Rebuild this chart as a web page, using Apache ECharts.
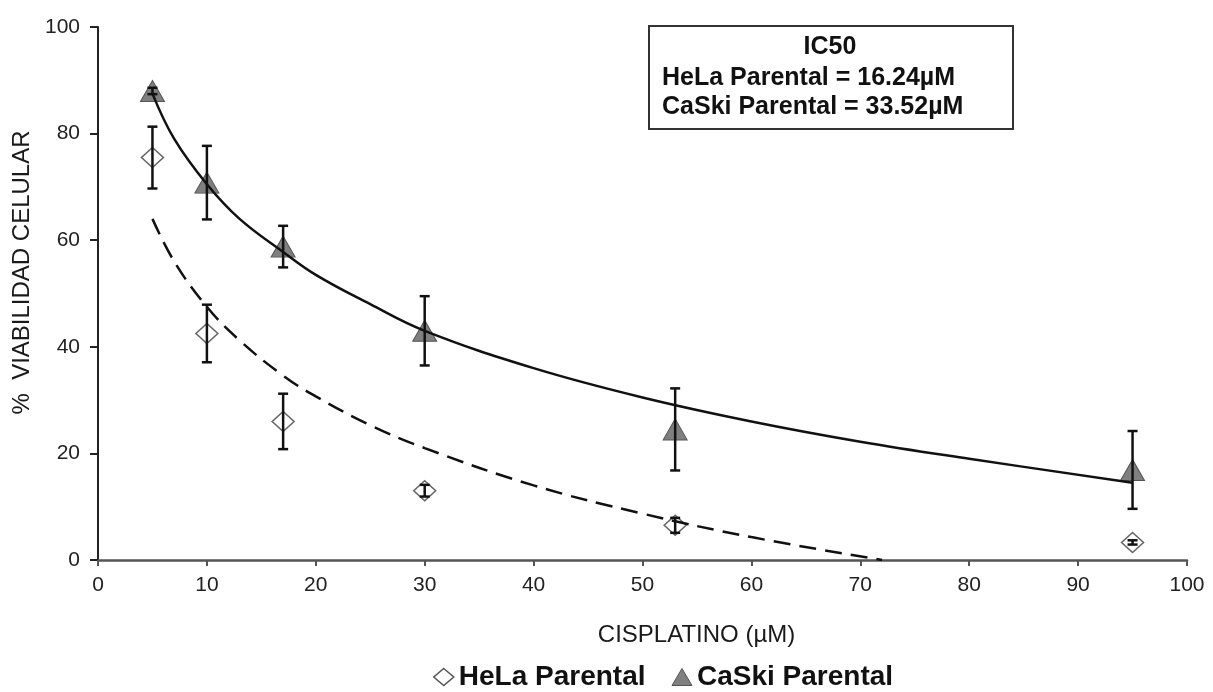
<!DOCTYPE html>
<html>
<head>
<meta charset="utf-8">
<script src="https://cdn.jsdelivr.net/npm/echarts@6/dist/echarts.min.js"></script>
<style>html,body{margin:0;padding:0;background:#fff;}#chart{width:1213px;height:692px;}</style>
</head>
<body>
<div id="chart"></div>
<script>
// ---- data ----
const doses = [5, 10, 17, 30, 53, 95];
const helaMean = [75.5, 42.5, 26, 13, 6.5, 3.3];
const helaErr = [5.8, 5.4, 5.2, 1.1, 1.4, 0.4];
const caskiMean = [88, 70.8, 58.8, 43, 24.5, 16.9];
const caskiErr = [0.6, 6.9, 3.9, 6.5, 7.7, 7.3];

const helaTrendX = [5, 7, 10, 13, 17, 20, 25, 30, 40, 50, 60, 72];
const helaTrendY = [64, 56, 47.5, 41.2, 34.6, 30.7, 25.3, 21, 14, 8.7, 4.3, 0];
const caskiTrendX = [5, 7, 10, 13, 17, 20, 25, 30, 40, 50, 60, 70, 80, 95];
const caskiTrendY = [87.5, 79, 70.5, 64, 57.8, 53.5, 48, 43, 36, 30.5, 26, 22.2, 19, 14.5];

const seriesNames = ['HeLa Parental', 'CaSki Parental'];
const xTicks = [0, 100, 10];
const yTicks = [0, 100, 20];
const boxTitle = 'IC50';
const boxLines = ['HeLa Parental = 16.24µM', 'CaSki Parental = 33.52µM'];
const xName = 'CISPLATINO (µM)';
const yName = '%  VIABILIDAD CELULAR';

const FONT = '"Liberation Sans", Arial, sans-serif';

function pairs(xs, ys) { return xs.map((x, i) => [x, ys[i]]); }
function errData(xs, m, e) { return xs.map((x, i) => [x, m[i] - e[i], m[i] + e[i]]); }

function errRender(params, api) {
  const x = api.value(0);
  const lo = api.coord([x, api.value(1)]);
  const hi = api.coord([x, api.value(2)]);
  const w = 5;
  const style = { stroke: '#111', lineWidth: 2.5, fill: null };
  return {
    type: 'group',
    children: [
      { type: 'line', shape: { x1: lo[0], y1: lo[1], x2: hi[0], y2: hi[1] }, style: style },
      { type: 'line', shape: { x1: lo[0] - w, y1: lo[1], x2: lo[0] + w, y2: lo[1] }, style: style },
      { type: 'line', shape: { x1: hi[0] - w, y1: hi[1], x2: hi[0] + w, y2: hi[1] }, style: style }
    ]
  };
}

const chart = echarts.init(document.getElementById('chart'), null, { renderer: 'canvas' });

const boxFont = 'bold 25px ' + FONT;

const option = {
  backgroundColor: '#ffffff',
  animation: false,
  textStyle: { fontFamily: FONT },
  grid: { left: 98, right: 26, top: 27, bottom: 132, containLabel: false },
  xAxis: {
    type: 'value', min: xTicks[0], max: xTicks[1], interval: xTicks[2],
    name: xName, nameLocation: 'middle', nameGap: 63,
    nameTextStyle: { fontSize: 24, color: '#1a1a1a', fontFamily: FONT, padding: [0, 0, 0, 108] },
    axisLine: { show: true, lineStyle: { color: '#555', width: 2.5 } },
    axisTick: { show: true, inside: false, length: 6, lineStyle: { color: '#555', width: 2 } },
    axisLabel: { fontSize: 21, color: '#222', margin: 15, fontFamily: FONT },
    splitLine: { show: false }
  },
  yAxis: {
    type: 'value', min: yTicks[0], max: yTicks[1], interval: yTicks[2],
    name: yName, nameLocation: 'middle', nameGap: 62,
    nameTextStyle: { fontSize: 24, color: '#1a1a1a', fontFamily: FONT, padding: [0, 0, 0, 42] },
    axisLine: { show: true, lineStyle: { color: '#222', width: 2 } },
    axisTick: { show: true, inside: false, length: 8, lineStyle: { color: '#222', width: 2 } },
    axisLabel: { fontSize: 21, color: '#222', margin: 18, fontFamily: FONT },
    splitLine: { show: false }
  },
  legend: {
    left: 428, top: 658,
    itemWidth: 20, itemHeight: 17, itemGap: 26,
    textStyle: { fontSize: 28, fontWeight: 'bold', color: '#111', fontFamily: FONT },
    data: [
      { name: seriesNames[0], icon: 'diamond', itemStyle: { color: '#fff', borderColor: '#555', borderWidth: 1.5 } },
      { name: seriesNames[1], icon: 'triangle', itemStyle: { color: '#808080', borderColor: '#555', borderWidth: 1 } }
    ]
  },
  graphic: [
    {
      type: 'rect', left: 648, top: 25, z: 10,
      shape: { width: 364, height: 103 },
      style: { fill: '#fff', stroke: '#333', lineWidth: 2 }
    },
    {
      type: 'text', z: 11, x: 830, y: 47,
      style: { text: boxTitle, fill: '#111', align: 'center', verticalAlign: 'middle', font: boxFont }
    },
    {
      type: 'text', z: 11, x: 662, y: 78,
      style: { text: boxLines[0], fill: '#111', align: 'left', verticalAlign: 'middle', font: boxFont }
    },
    {
      type: 'text', z: 11, x: 662, y: 107,
      style: { text: boxLines[1], fill: '#111', align: 'left', verticalAlign: 'middle', font: boxFont }
    }
  ],
  series: [
    {
      name: seriesNames[0], type: 'scatter', z: 3,
      symbol: 'diamond', symbolSize: [22, 20],
      itemStyle: { color: '#fff', borderColor: '#666', borderWidth: 1.5, opacity: 1 },
      data: pairs(doses, helaMean)
    },
    {
      name: seriesNames[1], type: 'scatter', z: 3,
      symbol: 'triangle', symbolSize: [24, 21],
      itemStyle: { color: '#7f7f7f', borderColor: '#555', borderWidth: 1, opacity: 1 },
      data: pairs(doses, caskiMean)
    },
    {
      name: 'helaErr', type: 'custom', z: 4, renderItem: errRender,
      encode: { x: 0, y: [1, 2] }, data: errData(doses, helaMean, helaErr)
    },
    {
      name: 'caskiErr', type: 'custom', z: 4, renderItem: errRender,
      encode: { x: 0, y: [1, 2] }, data: errData(doses, caskiMean, caskiErr)
    },
    {
      name: 'helaTrend', type: 'line', z: 5, smooth: 0.4, showSymbol: false, symbol: 'none',
      lineStyle: { color: '#111', width: 2.5, type: [17, 9] },
      data: pairs(helaTrendX, helaTrendY)
    },
    {
      name: 'caskiTrend', type: 'line', z: 5, smooth: 0.4, showSymbol: false, symbol: 'none',
      lineStyle: { color: '#111', width: 2.5 },
      data: pairs(caskiTrendX, caskiTrendY)
    }
  ]
};
chart.setOption(option);
</script>
</body>
</html>
